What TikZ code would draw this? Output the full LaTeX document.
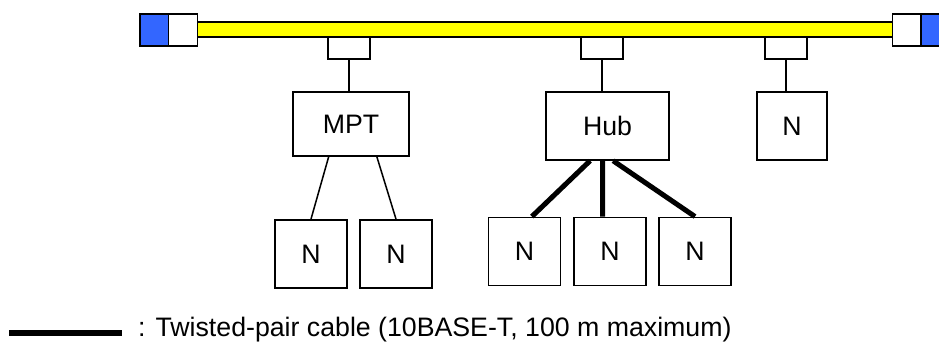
\documentclass[tikz,border=0pt]{standalone}
\usepackage{fontspec}
\setmainfont{Liberation Sans}
\usetikzlibrary{calc}
\definecolor{eth-blue}{HTML}{3366FF}
\definecolor{eth-yellow}{HTML}{FFFF00}

\begin{document}
\begin{tikzpicture}[x=0.03cm, y=0.03cm,
    box/.style={draw, line width=1.3pt, rectangle, inner sep=0pt, fill=white,
                font=\fontsize{22.8}{27}\selectfont},
    station/.style={box, minimum width=2.16cm, minimum height=2.05cm},
    tap/.style={box, minimum width=1.26cm, minimum height=0.66cm},
    term/.style={box, minimum width=0.86cm, minimum height=0.96cm},
    thin/.style={line width=1.3pt},
    twisted/.style={line width=4.3pt}]
    \useasboundingbox (0,0) rectangle (939,343);
    \clip (0,0) rectangle (939,343);
    % thick coax with terminators
    \node[box, fill=eth-yellow, minimum width=20.88cm, minimum height=0.45cm] (coax) at (545,313.5) {};
    \node[term, fill=eth-blue] (termL) at (154.5,313) {};
    \node[term] (plugL) at (183,313) {};
    \node[term] (plugR) at (907,313) {};
    \node[term, fill=eth-blue] (termR) at (935.5,313) {};
    % transceivers
    \node[tap] (tapM) at (349,295) {};
    \node[tap] (tapH) at (602,295) {};
    \node[tap] (tapN) at (786,295) {};
    % devices
    \node[box, minimum width=3.48cm, minimum height=1.92cm] (mpt) at (351,219) {MPT};
    \node[box, minimum width=3.69cm, minimum height=2.04cm] (hub) at (607.5,217) {Hub};
    \node[box, minimum width=2.1cm, minimum height=2.04cm] (nTop) at (792,217) {N};
    \node[station] (m1) at (311,89) {N};
    \node[station] (m2) at (396,89) {N};
    \node[station] (h1) at (524.5,91.5) {N};
    \node[station] (h2) at (610,91.5) {N};
    \node[station] (h3) at (695,91.5) {N};
    % drop cables
    \draw[thin] (tapM.south) -- (tapM.south |- mpt.north);
    \draw[thin] (tapH.south) -- (tapH.south |- hub.north);
    \draw[thin] (tapN.south) -- (tapN.south |- nTop.north);
    \draw[thin] ($(mpt.south west)!0.31!(mpt.south east)$) -- (m1.north);
    \draw[thin] ($(mpt.south west)!0.72!(mpt.south east)$) -- (m2.north);
    % twisted pair
    \draw[twisted] ($(hub.south west)!0.36!(hub.south east)$) -- ($(h1.north west)!0.6!(h1.north east)$);
    \draw[twisted] ($(hub.south west)!0.46!(hub.south east)$) -- ($(h2.north west)!0.4!(h2.north east)$);
    \draw[twisted] ($(hub.south west)!0.545!(hub.south east)$) -- (h3.north);
    % legend
    \coordinate (legA) at (9,10);
    \coordinate (legB) at (122,10);
    \draw[twisted] (legA) -- (legB);
    \node[anchor=base west, inner sep=0pt, font=\fontsize{22.8}{27}\selectfont] (legend) at (138,6)
        {: Twisted-pair cable (10BASE-T, 100 m maximum)};
\end{tikzpicture}
\end{document}
